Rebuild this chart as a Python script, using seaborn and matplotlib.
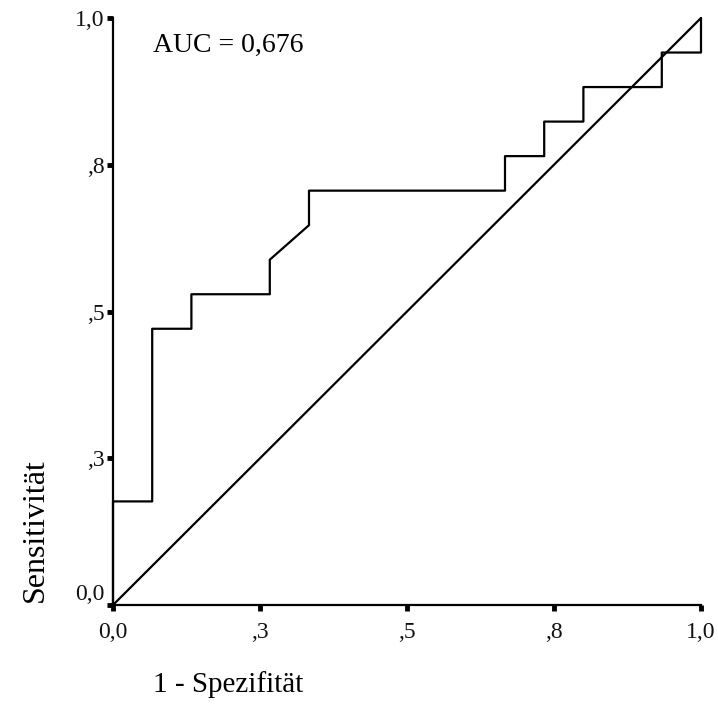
import matplotlib
matplotlib.use("Agg")
import matplotlib.pyplot as plt
import seaborn as sns
import pandas as pd

# ROC curve points (1 - specificity, sensitivity)
fpr = [0, 0, 1/15, 1/15, 2/15, 2/15, 4/15, 4/15, 5/15, 5/15, 10/15, 10/15,
       11/15, 11/15, 12/15, 12/15, 14/15, 14/15, 1, 1]
tpr = [0, 3/17, 3/17, 8/17, 8/17, 9/17, 9/17, 10/17, 11/17, 12/17, 12/17, 13/17,
       13/17, 14/17, 14/17, 15/17, 15/17, 16/17, 16/17, 1]
diag_x = [0, 1]
diag_y = [0, 1]
tick_vals = [0, 0.25, 0.5, 0.75, 1.0]
tick_labels = ["0,0", ",3", ",5", ",8", "1,0"]
auc_text = "AUC = 0,676"
xlabel = "1 - Spezifität"
ylabel = "Sensitivität"

sns.set_theme(style="white")
plt.rcParams["font.family"] = ["Liberation Serif", "DejaVu Serif"]

fig = plt.figure(figsize=(7.18, 7.2), dpi=100)
ax = fig.add_axes([113/718, 1 - 605/720, 588/718, 587/720])

roc = pd.DataFrame({"x": fpr, "y": tpr})
diag = pd.DataFrame({"x": diag_x, "y": diag_y})
sns.lineplot(data=roc, x="x", y="y", sort=False, estimator=None, color="black",
             linewidth=1.6, ax=ax, clip_on=False)
sns.lineplot(data=diag, x="x", y="y", sort=False, estimator=None, color="black",
             linewidth=1.6, ax=ax, clip_on=False)

ax.set_xlim(0, 1)
ax.set_ylim(0, 1)
ax.set_xticks(tick_vals)
ax.set_xticklabels(tick_labels)
ax.set_yticks(tick_vals)
ax.set_yticklabels(tick_labels)
ylabs = ax.get_yticklabels()
ylabs[0].set_va("bottom")

for s in ["top", "right"]:
    ax.spines[s].set_visible(False)
for s in ["left", "bottom"]:
    ax.spines[s].set_linewidth(1.6)
    ax.spines[s].set_color("black")

ax.tick_params(axis="both", which="major", direction="out", length=4, width=3.5,
               color="black", labelsize=17, labelcolor="#111111",
               bottom=True, left=True)
ax.tick_params(axis="x", pad=8)
ax.tick_params(axis="y", pad=2)

ax.set_xlabel(xlabel, fontsize=21, ha="left", va="center", color="black")
ax.xaxis.set_label_coords(40/588, -80/587)
ax.set_ylabel(ylabel, fontsize=23, ha="center", va="center", color="black")
ax.yaxis.set_label_coords(-78/588, 75/587)

ax.text(40/588, (605-45)/587, auc_text, transform=ax.transAxes, ha="left",
        va="center", fontsize=20, color="black")

fig.savefig("out.png", dpi=100, facecolor="white")
